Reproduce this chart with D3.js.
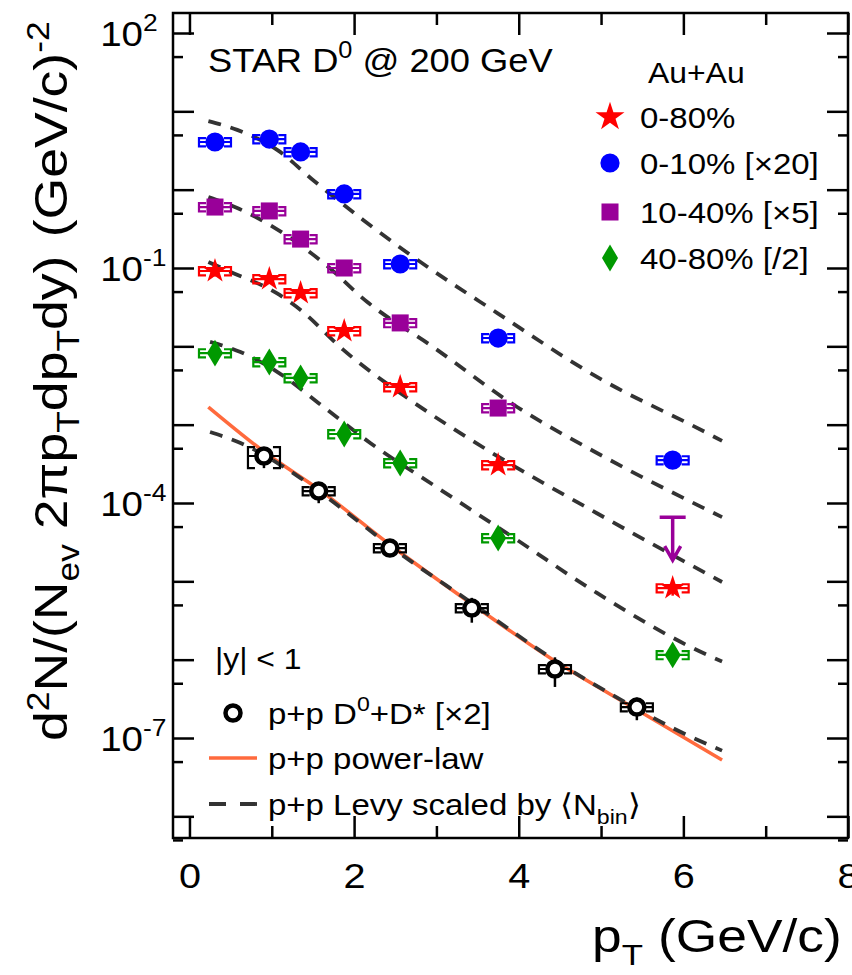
<!DOCTYPE html>
<html>
<head>
<meta charset="utf-8">
<script src="https://cdn.jsdelivr.net/npm/d3@7"></script>
<style>
  body { margin: 0; background: #fff; }
  svg { display: block; font-family: "Liberation Sans", Arial, Helvetica, sans-serif; }
</style>
</head>
<body>
<svg id="chart" width="852" height="975"></svg>
<script>
// ---- data ----
const ptAuAu = [0.31, 0.97, 1.35, 1.88, 2.56, 3.75, 5.87];
const central = [4.06, 4.43, 3.03, 0.881, 0.1125, 0.01277, 3.53e-4];          // 0-10% x20
const midCentral = [0.60, 0.535, 0.234, 0.100, 0.0199, 1.63e-3];               // 10-40% x5
const midLimitPt = 5.87, midLimit = 6.6e-5;                                      // upper limit
const minBias = [0.0916, 0.0723, 0.048, 0.0157, 3.03e-3, 3.05e-4, 8.2e-6];    // 0-80%
const peripheral = [8.2e-3, 6.3e-3, 3.95e-3, 7.6e-4, 3.24e-4, 3.57e-5, 1.15e-6]; // 40-80% /2
const statAuAu = [0.15, 0.12, 0.12, 0.12, 0.12, 0.15, 0.2];
const sysAuAu = [0.12, 0.12, 0.12, 0.12, 0.12, 0.12, 0.12];

const ptPP = [0.905, 1.57, 2.435, 3.43, 4.44, 5.435];
const ppVal = [3.98e-4, 1.42e-4, 2.66e-5, 4.56e-6, 7.6e-7, 2.48e-7];
const ppStat = [0.3, 0.3, 0.15, 0.35, 0.41, 0.32];
const ppSys = [0.3, 0.12, 0.12, 0.12, 0.12, 0.12];

// Levy fits (dashed) and power-law (solid)
const levyCentral = [[0.23, 7.5], [0.58, 5.8], [1.07, 3.2], [1.5, 1.33], [2.11, 0.41], [2.72, 0.138], [3.74, 0.0266], [4.95, 4.07e-3], [6.29, 7.8e-4], [6.47, 6.2e-4]];
const levyMid = [[0.23, 0.805], [0.58, 0.583], [1.02, 0.333], [1.63, 0.116], [2.16, 0.0368], [2.96, 9.8e-3], [3.98, 1.68e-3], [4.95, 4.35e-4], [6.47, 6.6e-5]];
const levyMinBias = [[0.23, 0.119], [0.5, 0.089], [1.07, 0.047], [1.35, 0.0291], [1.87, 9.0e-3], [2.68, 2.07e-3], [3.62, 4.74e-4], [4.95, 7.4e-5], [6.47, 9.8e-6]];
const levyPeripheral = [[0.25, 0.0114], [0.62, 8.46e-3], [1.07, 4.7e-3], [1.63, 1.68e-3], [2.2, 5.8e-4], [3.0, 1.6e-4], [3.98, 3.37e-5], [4.95, 7.1e-6], [6.29, 1.15e-6], [6.47, 9.5e-7]];
const levyPP = [[0.25, 8.05e-4], [0.62, 5.83e-4], [1.07, 3.24e-4], [1.35, 2.08e-4], [1.92, 7.45e-5], [2.44, 2.8e-5], [3.43, 5.3e-6], [4.44, 9.8e-7], [5.44, 2.35e-7], [5.87, 1.34e-7], [6.47, 6.9e-8]];
const powerLawPP = [[0.23, 1.68e-3], [0.91, 4.48e-4], [1.58, 1.47e-4], [2.44, 2.91e-5], [3.43, 5.14e-6], [4.44, 9.6e-7], [5.44, 2.28e-7], [6.47, 5.24e-8]];

const xMajor = [0, 2, 4, 6, 8];
const xMinor = [1, 3, 5, 7];
const yDecades = d3.range(-8, 3).map((k) => Math.pow(10, k));
const yFives = d3.range(-9, 2).map((k) => 5 * Math.pow(10, k));
const yLabelExp = [2, -1, -4, -7];

const auauLegend = ["0-80%", "0-10% [×20]", "10-40% [×5]", "40-80% [/2]"];

// ---- layout ----
const svg = d3.select("#chart");
const L = 173, R = 848, T = 13, B = 838;
const x = d3.scaleLinear().domain([-0.2, 8]).range([L, R]);
const y = d3.scaleLog().domain([5.29e-9, 180]).range([B, T]);

const colors = { red: "#ff0000", blue: "#0000ff", purple: "#990099", green: "#009900" };
const SX = 1.1; // the original lettering is a little wider than Liberation Sans

// axes: ticks on all four sides, pointing inward
const axisStyle = (g) => {
  g.select(".domain").remove();
  g.selectAll(".tick line").attr("stroke", "#000").attr("stroke-width", 2.5);
};

svg.append("g").attr("transform", `translate(0,${B})`)
  .call(d3.axisBottom(x).tickValues(xMajor).tickSize(-22).tickPadding(24).tickFormat(d3.format("d")))
  .call(axisStyle)
  .call((g) => g.selectAll("text").attr("font-size", 36).attr("fill", "#000")
    .attr("font-family", "Liberation Sans, Arial, sans-serif")
    .attr("transform", `scale(${SX},1)`));
svg.append("g").attr("transform", `translate(0,${B})`)
  .call(d3.axisBottom(x).tickValues(xMinor).tickSize(-12).tickFormat("")).call(axisStyle);
svg.append("g").attr("transform", `translate(0,${T})`)
  .call(d3.axisTop(x).tickValues(xMajor).tickSize(-22).tickFormat("")).call(axisStyle);
svg.append("g").attr("transform", `translate(0,${T})`)
  .call(d3.axisTop(x).tickValues(xMinor).tickSize(-12).tickFormat("")).call(axisStyle);

svg.append("g").attr("transform", `translate(${L},0)`)
  .call(d3.axisLeft(y).tickValues(yDecades).tickSize(-21).tickFormat("")).call(axisStyle);
svg.append("g").attr("transform", `translate(${L},0)`)
  .call(d3.axisLeft(y).tickValues(yFives).tickSize(-10).tickFormat("")).call(axisStyle);
svg.append("g").attr("transform", `translate(${R},0)`)
  .call(d3.axisRight(y).tickValues(yDecades).tickSize(-21).tickFormat("")).call(axisStyle);
svg.append("g").attr("transform", `translate(${R},0)`)
  .call(d3.axisRight(y).tickValues(yFives).tickSize(-10).tickFormat("")).call(axisStyle);

svg.append("rect").attr("x", L).attr("y", T).attr("width", R - L).attr("height", B - T)
  .attr("fill", "none").attr("stroke", "#000").attr("stroke-width", 2.5);

// text helper: anchored at (xx,yy), slightly widened
const txt = (xx, yy, size, anchor = "start") => svg.append("text")
  .attr("transform", `translate(${xx},${yy}) scale(${SX},1)`)
  .attr("text-anchor", anchor).attr("font-size", size).attr("fill", "#000");

// y tick labels 10^n
yLabelExp.forEach((e) => {
  const yy = y(Math.pow(10, e)) + 13;
  txt(143, yy, 35, "end").text("10");
  txt(143, yy - 15, 24).text(e < 0 ? "-" + (-e) : String(e));
});

// ---- curves ----
const line = d3.line().x((d) => x(d[0])).y((d) => y(d[1])).curve(d3.curveMonotoneX);
svg.append("path").datum(powerLawPP).attr("d", line)
  .attr("fill", "none").attr("stroke", "#ff6a3d").attr("stroke-width", 3.5);
[levyCentral, levyMid, levyMinBias, levyPeripheral, levyPP].forEach((c) => {
  svg.append("path").datum(c).attr("d", line)
    .attr("fill", "none").attr("stroke", "#333").attr("stroke-width", 3.8)
    .attr("stroke-dasharray", "13,10");
});

// ---- marker shapes ----
const diamondType = {
  draw(ctx, size) {
    const h = Math.sqrt(size) * 0.95, w = h * 0.6;
    ctx.moveTo(0, -h); ctx.lineTo(w, 0); ctx.lineTo(0, h); ctx.lineTo(-w, 0); ctx.closePath();
  },
};
const shapes = {
  star: d3.symbol().type(d3.symbolStar).size(190),
  circle: d3.symbol().type(d3.symbolCircle).size(290),
  square: d3.symbol().type(d3.symbolSquare).size(290),
  diamond: d3.symbol().type(diamondType).size(200),
};

const drawSeries = (pts, vals, shape, color, stat, sys) => {
  const g = svg.append("g");
  vals.forEach((v, i) => {
    const px = x(pts[i]), py = y(v);
    const yt = y(v * (1 + sys[i])), yb = y(v * (1 - sys[i]));
    // systematic brackets
    g.append("path")
      .attr("d", `M${px - 9},${yt}H${px - 16}V${yb}H${px - 9}M${px + 9},${yt}H${px + 16}V${yb}H${px + 9}M${px - 16},${py}H${px + 16}`)
      .attr("fill", "none").attr("stroke", color).attr("stroke-width", 2.2);
    // statistical bar
    g.append("line").attr("x1", px).attr("x2", px)
      .attr("y1", y(v * (1 + stat[i]))).attr("y2", y(v * (1 - stat[i])))
      .attr("stroke", color).attr("stroke-width", 2.5);
    if (shape === "open") {
      g.append("circle").attr("cx", px).attr("cy", py).attr("r", 7.5)
        .attr("fill", "#fff").attr("stroke", "#000").attr("stroke-width", 4.5);
    } else {
      g.append("path").attr("d", shapes[shape]()).attr("transform", `translate(${px},${py})`)
        .attr("fill", color);
    }
  });
};

drawSeries(ptAuAu, central, "circle", colors.blue, statAuAu, sysAuAu);
drawSeries(ptAuAu.slice(0, 6), midCentral, "square", colors.purple, statAuAu, sysAuAu);
drawSeries(ptAuAu, minBias, "star", colors.red, statAuAu, sysAuAu);
drawSeries(ptAuAu, peripheral, "diamond", colors.green, statAuAu, sysAuAu);
drawSeries(ptPP, ppVal, "open", "#000", ppStat, ppSys);

// upper limit arrow for 10-40% at highest pT
{
  const px = x(midLimitPt), py = y(midLimit);
  svg.append("path")
    .attr("d", `M${px - 13},${py}H${px + 13}M${px},${py}V${py + 43}M${px - 8},${py + 29}L${px},${py + 43}L${px + 8},${py + 29}`)
    .attr("fill", "none").attr("stroke", colors.purple).attr("stroke-width", 3.5);
}

// ---- texts ----
const star = txt(208, 72, 33);
star.append("tspan").text("STAR D");
star.append("tspan").attr("dy", -14).attr("font-size", 23).text("0");
star.append("tspan").attr("dy", 14).text(" @ 200 GeV");

txt(648, 83, 29).text("Au+Au");
const legShapes = ["star", "circle", "square", "diamond"];
const legColors = [colors.red, colors.blue, colors.purple, colors.green];
const legY = [117, 163, 212, 258];
auauLegend.forEach((label, i) => {
  const sym = i === 0 ? d3.symbol().type(d3.symbolStar).size(260)() : shapes[legShapes[i]]();
  svg.append("path").attr("d", sym).attr("transform", `translate(610,${legY[i]})`)
    .attr("fill", legColors[i]);
  txt(640, legY[i] + 11, 30).text(label);
});

txt(215, 669, 29).text("|y| < 1");

// pp legend
svg.append("circle").attr("cx", 233).attr("cy", 713).attr("r", 7.5)
  .attr("fill", "#fff").attr("stroke", "#000").attr("stroke-width", 4.5);
const l1 = txt(268, 724, 30);
l1.append("tspan").text("p+p D");
l1.append("tspan").attr("dy", -13).attr("font-size", 21).text("0");
l1.append("tspan").attr("dy", 13).text("+D* [×2]");
svg.append("line").attr("x1", 209).attr("x2", 257).attr("y1", 758).attr("y2", 758)
  .attr("stroke", "#ff6a3d").attr("stroke-width", 3.5);
txt(268, 769, 30).text("p+p power-law");
svg.append("line").attr("x1", 209).attr("x2", 257).attr("y1", 804).attr("y2", 804)
  .attr("stroke", "#333").attr("stroke-width", 3.8).attr("stroke-dasharray", "17,14");
const l3 = txt(268, 815, 30);
l3.append("tspan").text("p+p Levy scaled by ⟨N");
l3.append("tspan").attr("dy", 9).attr("font-size", 21).text("bin");
l3.append("tspan").attr("dy", -9).text("⟩");

// axis titles
const xt = svg.append("text").attr("transform", "translate(592,952) scale(1.16,1)")
  .attr("font-size", 46).attr("fill", "#000");
xt.append("tspan").text("p");
xt.append("tspan").attr("dy", 13).attr("font-size", 30).text("T");
xt.append("tspan").attr("dy", -13).attr("dx", 13).text("(GeV/c)");

const yt = svg.append("text").attr("transform", "translate(67,741) rotate(-90) scale(1.14,1)")
  .attr("font-size", 47).attr("fill", "#000");
yt.append("tspan").text("d");
yt.append("tspan").attr("dy", -18).attr("font-size", 31).text("2");
yt.append("tspan").attr("dy", 18).text("N/(N");
yt.append("tspan").attr("dy", 12).attr("font-size", 31).text("ev");
yt.append("tspan").attr("dy", -12).text(" 2πp");
yt.append("tspan").attr("dy", 12).attr("font-size", 31).text("T");
yt.append("tspan").attr("dy", -12).text("dp");
yt.append("tspan").attr("dy", 12).attr("font-size", 31).text("T");
yt.append("tspan").attr("dy", -12).text("dy)");
yt.append("tspan").attr("dx", 16).text("(GeV/c)");
yt.append("tspan").attr("dy", -18).attr("font-size", 31).text("-2");
</script>
</body>
</html>
